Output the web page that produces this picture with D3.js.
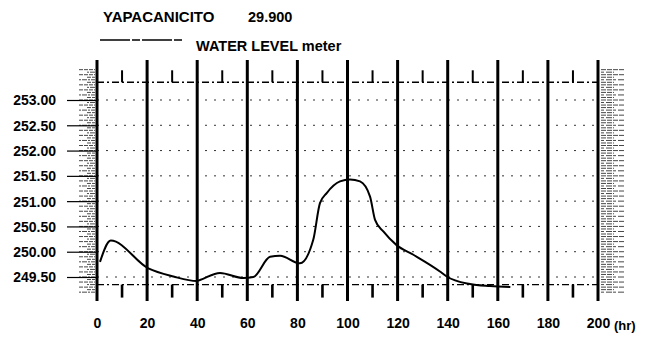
<!DOCTYPE html>
<html><head><meta charset="utf-8">
<script src="https://cdn.jsdelivr.net/npm/d3@7"></script>
<style>body{margin:0;background:#fff}svg{display:block}text{font-family:"Liberation Sans",Arial,sans-serif;font-weight:bold;fill:#000}</style>
</head><body><svg id="c" width="652" height="340"></svg>
<script>
// ---- data ----
const stationName = "YAPACANICITO";
const stationKm = "29.900";
const seriesLabel = "WATER LEVEL meter";
const hours =  [1.2, 5.5, 20.5, 30.5, 39.8, 41.1, 49.1, 58.4, 62.4, 69.1, 73.1, 81.0, 86.3, 89.0, 91.7, 97.0, 101.0, 105.0, 109.0, 111.0, 114.3, 119.6, 126.3, 136.9, 139.6, 148.9, 156.9, 165];
const levels = [249.80, 250.22, 249.67, 249.51, 249.42, 249.44, 249.58, 249.48, 249.50, 249.90, 249.92, 249.77, 250.23, 250.96, 251.16, 251.39, 251.43, 251.39, 251.09, 250.63, 250.40, 250.13, 249.94, 249.61, 249.51, 249.36, 249.32, 249.30];
const xTicks = [0, 20, 40, 60, 80, 100, 120, 140, 160, 180, 200];
const xMinorTicks = [10, 30, 50, 70, 90, 110, 130, 150, 170, 190];
const yTicks = [253.00, 252.50, 252.00, 251.50, 251.00, 250.50, 250.00, 249.50];
const xUnit = "(hr)";
const topRef = 253.35, bottomRef = 249.35;

// ---- layout ----
const svg = d3.select("#c");
const x = d3.scaleLinear().domain([0, 200]).range([97, 598]);
const y = d3.scaleLinear().domain([249.5, 253]).range([277, 100]);

// hatches (fine scale) left and right
const hatchVals = d3.range(0, 89).map(i => 249.2 + i * 0.05);
svg.append("g").selectAll("line").data(hatchVals).join("line")
  .attr("x1", (d, i) => x(0) - (i % 2 ? 10 : 18)).attr("x2", x(0) - 2)
  .attr("y1", d => y(d)).attr("y2", d => y(d))
  .attr("stroke", "#333").attr("stroke-width", 0.9).attr("stroke-dasharray", (d, i) => i % 3 ? "4,1" : "2,1,5,1");
svg.append("g").selectAll("line").data(hatchVals).join("line")
  .attr("x1", x(200) + 3).attr("x2", (d, i) => x(200) + (i % 2 ? 16 : 26))
  .attr("y1", d => y(d)).attr("y2", d => y(d))
  .attr("stroke", "#333").attr("stroke-width", 0.9).attr("stroke-dasharray", (d, i) => i % 3 ? "5,1" : "3,2,6,1");

// dotted horizontal grid
svg.append("g").selectAll("line").data(yTicks).join("line")
  .attr("x1", x(0)).attr("x2", x(200))
  .attr("y1", d => y(d)).attr("y2", d => y(d))
  .attr("stroke", "#333").attr("stroke-width", 1).attr("stroke-dasharray", "2,7");

// top and bottom reference lines
[topRef, bottomRef].forEach(v => {
  svg.append("line").attr("x1", x(0)).attr("x2", x(200)).attr("y1", y(v)).attr("y2", y(v))
    .attr("stroke", "#000").attr("stroke-width", 1.4).attr("stroke-dasharray", "7,3,2,3");
});

// minor ticks top (upwards) & bottom (downwards)
svg.append("g").selectAll("line").data(xMinorTicks).join("line")
  .attr("x1", d => x(d)).attr("x2", d => x(d)).attr("y1", y(topRef)).attr("y2", y(topRef) - 12)
  .attr("stroke", "#000").attr("stroke-width", 2);
svg.append("g").selectAll("line").data(xMinorTicks).join("line")
  .attr("x1", d => x(d)).attr("x2", d => x(d)).attr("y1", y(bottomRef)).attr("y2", y(bottomRef) + 13)
  .attr("stroke", "#000").attr("stroke-width", 2.6);

// major vertical lines
svg.append("g").selectAll("line").data(xTicks).join("line")
  .attr("x1", d => x(d)).attr("x2", d => x(d)).attr("y1", 60).attr("y2", 301)
  .attr("stroke", "#000").attr("stroke-width", 3);

// y axis
const yAxis = d3.axisLeft(y).tickValues(yTicks).tickFormat(d3.format(".2f")).tickSize(30).tickPadding(11);
const gy = svg.append("g").attr("transform", `translate(${x(0)},0)`).call(yAxis);
gy.select(".domain").remove();
gy.selectAll(".tick line").attr("stroke", "#000").attr("stroke-width", 1.2);
gy.selectAll("text").style("font-size", "14px").attr("dy", "0.35em");

// x axis
const xAxis = d3.axisBottom(x).tickValues(xTicks).tickSize(0).tickPadding(13);
const gx = svg.append("g").attr("transform", `translate(0,305)`).call(xAxis);
gx.select(".domain").remove();
gx.selectAll("text").style("font-size", "14px");
svg.append("text").attr("x", x(200) + 16).attr("y", 330).style("font-size", "13px").text(xUnit);

// curve
const pts = hours.map((h, i) => [h, levels[i]]);
svg.append("path").datum(pts)
  .attr("d", d3.line().x(d => x(d[0])).y(d => y(d[1])).curve(d3.curveMonotoneX))
  .attr("fill", "none").attr("stroke", "#000").attr("stroke-width", 2);

// titles
svg.append("text").attr("x", 103).attr("y", 22).style("font-size", "15px").text(stationName);
svg.append("text").attr("x", 248).attr("y", 22).style("font-size", "14.5px").text(stationKm);
svg.append("line").attr("x1", 100).attr("x2", 182).attr("y1", 40).attr("y2", 40)
  .attr("stroke", "#000").attr("stroke-width", 1.3).attr("stroke-dasharray", "30,2,8,2");
svg.append("text").attr("x", 196).attr("y", 51).style("font-size", "14.5px").text(seriesLabel);
</script></body></html>
